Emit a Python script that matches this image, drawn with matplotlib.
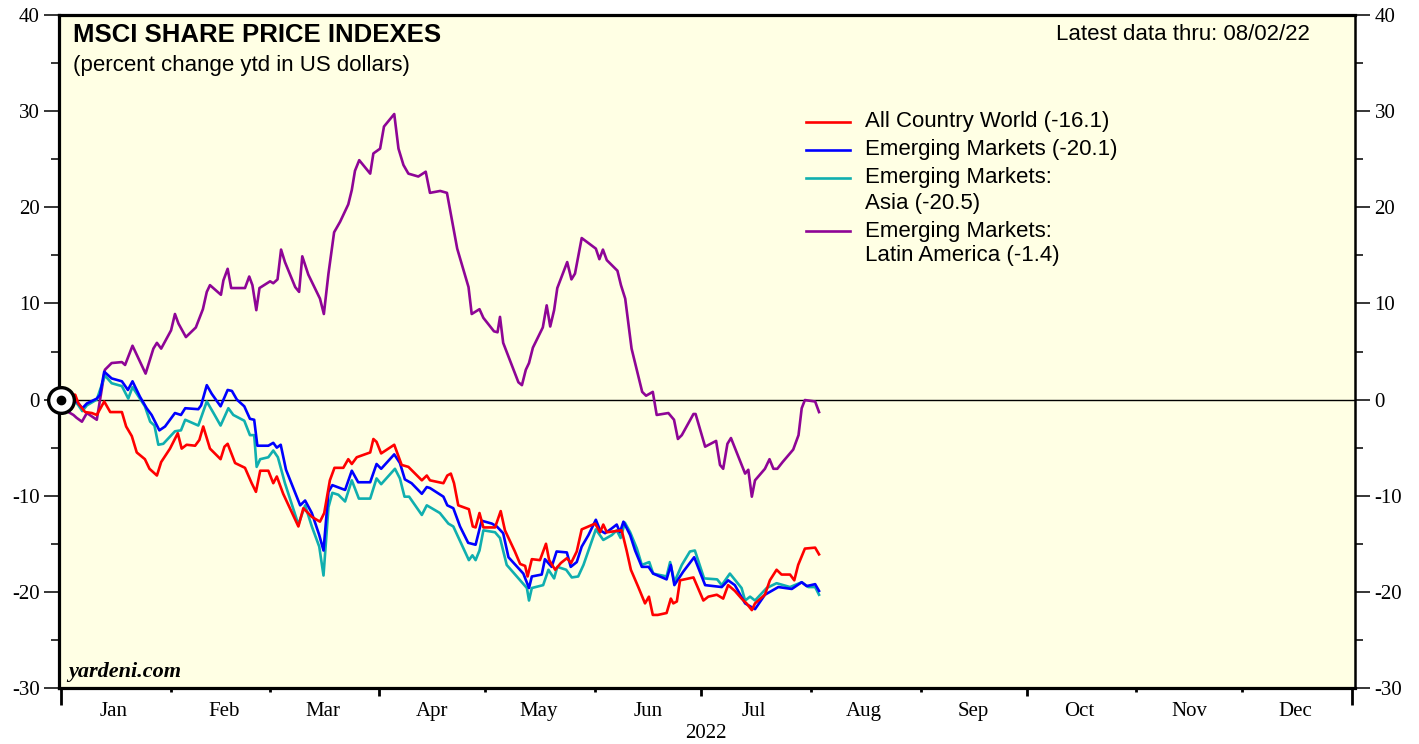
import matplotlib
matplotlib.use("Agg")
import matplotlib.pyplot as plt
import matplotlib.dates as mdates
import pandas as pd
from matplotlib.ticker import MultipleLocator

plt.rcParams["axes.unicode_minus"] = False

# (days since Jan 1 2022, percent change ytd in US dollars)
all_country_world = [
    (0, 0.0), (2.5, 0.5), (4.0, 0.5), (4.9, -0.4), (6.8, -1.3), (8.7, -1.4), (10.1, -1.6),
    (12.2, -0.2), (13.9, -1.3), (17.2, -1.3), (18.4, -2.8), (20.0, -3.8), (21.4, -5.5),
    (23.7, -6.2), (25.0, -7.2), (27.1, -7.9), (28.3, -6.5), (30.8, -5.1), (33.0, -3.5),
    (34.1, -5.1), (35.5, -4.7), (37.9, -4.8), (39.1, -4.2), (40.2, -2.8), (42.1, -5.1),
    (45.1, -6.2), (46.2, -4.9), (47.1, -4.6), (49.2, -6.6), (52.0, -7.1), (53.9, -8.7),
    (55.1, -9.6), (56.3, -7.4), (58.6, -7.4), (60.0, -8.7), (61.0, -8.0), (62.8, -9.8),
    (67.1, -13.2), (68.5, -11.3), (70.9, -12.2), (73.2, -12.7), (74.4, -11.8), (76.0, -8.4),
    (77.3, -7.1), (79.8, -7.1), (81.2, -6.2), (82.2, -6.7), (83.6, -6.0), (87.4, -5.5),
    (88.3, -4.1), (89.2, -4.4), (90.5, -5.6), (94.2, -4.7), (96.3, -6.8), (98.2, -7.0),
    (102.0, -8.4), (103.4, -7.9), (104.3, -8.4), (108.1, -8.7), (109.2, -7.9), (110.2, -7.7),
    (111.1, -8.7), (112.3, -11.0), (115.3, -11.4), (116.4, -13.2), (117.2, -13.3),
    (118.3, -11.8), (119.4, -13.3), (122.7, -13.3), (124.3, -11.6), (125.5, -13.6),
    (128.3, -15.8), (129.8, -17.1), (131.2, -17.3), (131.9, -18.4), (133.1, -16.6),
    (135.4, -16.7), (137.1, -15.0), (138.0, -16.7), (139.7, -17.7), (141.3, -17.0),
    (143.0, -16.5), (144.2, -17.0), (145.8, -15.8), (147.2, -13.5), (151.0, -12.9),
    (152.4, -13.8), (153.3, -13.0), (154.3, -13.8), (158.5, -13.6), (159.9, -15.7),
    (161.1, -17.7), (163.2, -19.5), (165.1, -21.2), (166.2, -20.5), (167.3, -22.4),
    (168.7, -22.4), (171.2, -22.2), (172.4, -20.7), (173.1, -21.2), (174.1, -21.0),
    (175.0, -18.8), (178.8, -18.5), (180.2, -19.7), (181.6, -20.9), (183.0, -20.5),
    (185.4, -20.3), (187.2, -20.7), (188.6, -19.3), (190.5, -19.9), (192.4, -20.7),
    (193.8, -21.2), (195.3, -21.9), (196.2, -21.2), (199.0, -20.3), (200.4, -18.8),
    (202.3, -17.7), (203.7, -18.2), (206.1, -18.2), (207.3, -18.8), (208.4, -17.2),
    (210.3, -15.5), (213.2, -15.4), (214.3, -16.1),
]

emerging_markets = [
    (0, 0.0), (2.5, 0.5), (4.9, -0.4), (6.0, -0.9), (7.3, -0.4), (10.1, 0.1), (11.0, 0.5),
    (12.2, 2.9), (14.3, 2.2), (17.2, 1.9), (18.9, 1.0), (20.2, 1.9), (22.3, 0.3),
    (24.2, -0.9), (25.6, -1.6), (27.8, -3.2), (29.4, -2.8), (32.2, -1.4), (33.9, -1.6),
    (35.1, -0.9), (38.8, -1.0), (39.6, -0.6), (41.2, 1.5), (42.6, 0.6), (45.1, -0.7),
    (47.1, 1.0), (48.3, 0.9), (49.7, 0.0), (51.8, -0.7), (53.4, -2.0), (54.6, -2.1),
    (55.5, -4.8), (58.6, -4.8), (60.0, -4.5), (61.0, -5.0), (62.1, -4.7), (63.6, -7.3),
    (67.6, -11.0), (69.0, -10.5), (70.9, -11.8), (73.0, -14.1), (74.2, -15.7), (75.6, -9.6),
    (76.7, -8.9), (80.3, -9.4), (82.2, -7.4), (84.0, -8.6), (87.4, -8.6), (89.2, -6.7),
    (90.5, -7.2), (94.2, -5.7), (95.8, -6.6), (97.2, -8.3), (99.1, -8.7), (102.0, -9.8),
    (103.4, -9.1), (104.3, -9.2), (108.1, -10.1), (109.2, -11.0), (110.9, -11.3),
    (112.8, -13.2), (115.1, -14.9), (117.2, -15.1), (118.9, -12.6), (121.8, -12.9),
    (123.2, -13.2), (125.0, -13.9), (126.5, -16.4), (130.7, -18.1), (132.3, -19.6),
    (133.1, -18.4), (135.9, -18.2), (136.8, -16.6), (138.7, -17.4), (140.1, -15.8),
    (143.0, -15.9), (144.1, -17.4), (145.8, -16.9), (147.2, -15.3), (149.1, -14.1),
    (151.2, -12.5), (152.4, -13.6), (153.8, -13.9), (155.7, -13.4), (157.1, -13.0),
    (158.0, -13.8), (159.0, -12.7), (160.9, -14.1), (162.3, -15.7), (164.2, -17.4),
    (166.1, -17.4), (167.4, -18.1), (171.2, -18.7), (172.4, -17.2), (173.4, -19.3),
    (175.9, -17.9), (179.0, -16.4), (180.6, -17.9), (182.1, -19.3), (186.8, -19.5),
    (188.6, -18.8), (190.5, -19.3), (193.4, -21.2), (196.2, -21.8), (199.0, -20.3),
    (202.8, -19.5), (206.6, -19.7), (209.4, -19.0), (210.8, -19.4), (213.2, -19.2),
    (214.3, -19.9),
]

em_asia = [
    (0, 0.0), (2.5, 0.5), (4.9, -0.6), (6.0, -1.2), (7.3, -0.6), (10.1, 0.0), (12.4, 2.5),
    (14.3, 1.7), (17.2, 1.4), (19.0, 0.1), (20.2, 1.3), (23.7, -0.7), (25.2, -2.3),
    (26.4, -2.7), (27.5, -4.7), (28.9, -4.6), (32.2, -3.3), (33.9, -3.2), (35.1, -2.1),
    (38.8, -2.7), (41.2, -0.2), (43.1, -1.4), (45.1, -2.7), (47.3, -0.9), (48.7, -1.6),
    (51.8, -2.2), (53.4, -3.7), (54.6, -3.7), (55.3, -7.0), (56.3, -6.2), (58.6, -6.0),
    (60.0, -5.3), (61.3, -6.0), (63.3, -8.7), (67.1, -13.0), (69.0, -11.0), (70.9, -13.2),
    (73.0, -15.3), (74.2, -18.3), (75.6, -11.2), (76.7, -9.7), (78.4, -9.9), (80.3, -10.6),
    (82.2, -8.4), (84.2, -10.3), (87.4, -10.3), (89.2, -8.2), (90.5, -8.8), (94.4, -7.2),
    (95.8, -8.2), (97.1, -10.1), (98.4, -10.1), (102.0, -12.0), (103.4, -11.0),
    (104.8, -11.3), (107.1, -11.8), (109.5, -12.9), (110.9, -13.2), (115.3, -16.7),
    (116.3, -16.2), (117.2, -16.7), (118.3, -15.7), (119.4, -13.6), (122.7, -13.8),
    (124.1, -14.4), (126.0, -17.2), (129.8, -18.8), (131.7, -19.6), (132.3, -20.9),
    (133.1, -19.6), (136.3, -19.3), (137.8, -17.7), (139.4, -18.6), (140.3, -17.4),
    (142.8, -17.7), (144.4, -18.5), (146.2, -18.4), (147.7, -17.2), (151.2, -13.5),
    (153.3, -14.6), (155.7, -14.1), (157.1, -13.6), (158.2, -14.4), (159.4, -12.8),
    (160.9, -13.8), (162.8, -15.5), (164.2, -17.2), (166.3, -16.9), (167.4, -18.1),
    (171.2, -18.4), (172.2, -16.9), (173.4, -19.0), (175.5, -17.2), (177.8, -15.8),
    (179.2, -15.7), (181.8, -18.6), (185.5, -18.7), (186.8, -19.3), (189.1, -18.1),
    (192.4, -19.6), (193.4, -20.9), (194.8, -20.5), (196.2, -20.9), (199.5, -19.6),
    (202.3, -19.1), (206.1, -19.5), (209.4, -19.0), (211.3, -19.5), (213.2, -19.5),
    (214.3, -20.3),
]

em_latam = [
    (0, 0.0), (2.1, -1.3), (3.5, -1.6), (4.4, -1.9), (5.9, -2.3), (7.3, -1.4), (10.1, -2.1),
    (12.4, 3.1), (14.3, 3.8), (17.2, 3.9), (18.1, 3.6), (20.2, 5.6), (23.9, 2.7), (26.1, 5.3),
    (27.1, 5.9), (28.3, 5.3), (31.1, 7.2), (32.2, 8.9), (33.2, 7.9), (35.3, 6.5), (38.1, 7.5),
    (40.1, 9.4), (41.2, 11.2), (42.1, 11.9), (45.2, 10.9), (45.9, 12.4), (47.1, 13.6),
    (48.1, 11.6), (52.0, 11.6), (53.2, 12.8), (54.1, 11.9), (55.2, 9.3), (56.1, 11.6),
    (59.1, 12.3), (60.0, 12.1), (61.2, 12.5), (62.2, 15.6), (63.3, 14.3), (66.2, 11.7),
    (67.3, 11.2), (68.2, 14.9), (69.9, 13.0), (73.2, 10.5), (74.3, 8.9), (75.6, 13.1),
    (77.2, 17.4), (78.9, 18.5), (81.2, 20.3), (82.2, 21.8), (83.1, 23.8), (84.3, 24.9),
    (87.4, 23.5), (88.3, 25.6), (90.2, 26.1), (91.3, 28.4), (94.2, 29.7), (95.4, 26.1),
    (96.8, 24.4), (98.2, 23.5), (101.0, 23.2), (103.1, 23.7), (104.3, 21.5), (107.2, 21.7),
    (109.1, 21.5), (112.0, 15.7), (115.2, 11.7), (116.1, 8.9), (118.3, 9.4), (119.4, 8.5),
    (122.4, 7.1), (123.4, 7.0), (124.1, 8.6), (125.0, 5.9), (129.3, 1.8), (130.3, 1.5),
    (131.4, 3.1), (132.3, 3.8), (133.4, 5.4), (136.2, 7.5), (137.3, 9.8), (138.3, 7.6),
    (139.4, 9.3), (140.3, 11.6), (143.1, 14.3), (144.3, 12.5), (145.3, 13.1), (147.2, 16.8),
    (151.2, 15.7), (152.2, 14.6), (153.2, 15.6), (154.3, 14.5), (157.3, 13.4), (158.3, 11.9),
    (159.5, 10.5), (161.3, 5.3), (164.3, 0.8), (165.4, 0.4), (167.3, 0.8), (168.4, -1.6),
    (171.7, -1.4), (173.3, -2.1), (174.4, -4.1), (175.5, -3.7), (178.8, -1.5), (179.4, -1.5),
    (182.1, -4.9), (185.2, -4.3), (186.3, -6.8), (187.2, -7.2), (188.4, -4.6), (189.4, -4.0),
    (193.4, -7.7), (194.3, -7.3), (195.3, -10.1), (196.2, -8.4), (199.0, -7.2), (200.3, -6.2),
    (201.4, -7.2), (202.5, -7.2), (204.0, -6.5), (207.0, -5.2), (208.5, -3.7), (209.4, -0.9),
    (210.3, -0.05), (213.2, -0.2), (214.3, -1.3),
]

series = [
    (all_country_world, "#FF0000", ["All Country World (-16.1)"]),
    (emerging_markets, "#0000FF", ["Emerging Markets (-20.1)"]),
    (em_asia, "#10AFAF", ["Emerging Markets:", "Asia (-20.5)"]),
    (em_latam, "#8E0596", ["Emerging Markets:", "Latin America (-1.4)"]),
]

start = pd.Timestamp("2022-01-01")
serif = "Liberation Serif"
sans = "Liberation Sans"

fig = plt.figure(figsize=(14.19, 7.44), dpi=100)
ax = fig.add_axes([59 / 1419, 1 - 688 / 744, 1296 / 1419, 673 / 744])
ax.set_facecolor("#FFFFE4")

ax.axhline(0, color="black", lw=1.0, zorder=1)

# draw latam first so others sit on top like the reference
for data, color, _ in reversed(series):
    days, vals = zip(*data)
    dates = start + pd.to_timedelta(days, unit="D")
    ax.plot(dates, vals, color=color, lw=1.9, zorder=3)

# origin marker
ax.plot([start], [0], "o", ms=18.5, mfc="white", mec="black", mew=2.4,
        zorder=6, clip_on=False)
ax.plot([start], [0], "o", ms=6, color="black", zorder=7, clip_on=False)

ax.set_ylim(-30, 40)
ax.set_xlim(start - pd.Timedelta(hours=14), pd.Timestamp("2023-01-01") + pd.Timedelta(hours=20))

# y axis, both sides
ax.yaxis.set_major_locator(MultipleLocator(10))
ax.yaxis.set_minor_locator(MultipleLocator(5))
ax.tick_params(axis="y", which="both", direction="out", left=True, right=True,
               labelleft=True, labelright=True, width=1.1)
ax.tick_params(axis="y", which="major", length=11, pad=3, labelsize=15)
ax.tick_params(axis="y", which="minor", length=6)
for lab in ax.get_yticklabels():
    lab.set_fontfamily(serif)

# x axis: ticks at month starts, labels in mid month
month_starts = pd.date_range("2022-01-01", "2023-01-01", freq="MS")
ax.set_xticks(month_starts)
ax.set_xticklabels([])
mid_months = pd.date_range("2022-01-01", "2022-12-01", freq="MS") + pd.Timedelta(days=15)
ax.set_xticks(mid_months, minor=True)
ax.set_xticklabels([d.strftime("%b") for d in mid_months], minor=True,
                   fontfamily=serif, fontsize=15)
ax.tick_params(axis="x", which="major", direction="out", width=2.0, length=3)
ax.tick_params(axis="x", which="minor", length=0, pad=10)
for d, tick in zip(month_starts, ax.xaxis.get_major_ticks()):
    if d.month == 1:
        tick.tick1line.set_markersize(12)
    elif d.month in (4, 7, 10):
        tick.tick1line.set_markersize(6)

for side in ["left", "bottom", "top"]:
    ax.spines[side].set_linewidth(2.3)
ax.spines["right"].set_linewidth(1.8)

ax.text(0.4995, -0.067, "2022", transform=ax.transAxes, ha="center", va="center",
        fontfamily=serif, fontsize=15)

# titles
ax.text((73 - 59) / 1296, (688 - 35) / 673, "MSCI SHARE PRICE INDEXES",
        transform=ax.transAxes, fontfamily=sans, fontweight="bold", fontsize=18.5,
        va="center", ha="left")
ax.text((73 - 59) / 1296, (688 - 65) / 673, "(percent change ytd in US dollars)",
        transform=ax.transAxes, fontfamily=sans, fontsize=16, va="center", ha="left")
ax.text((1310 - 59) / 1296, (688 - 35) / 673, "Latest data thru: 08/02/22",
        transform=ax.transAxes, fontfamily=sans, fontsize=16, va="center", ha="right")
ax.text((68 - 59) / 1296, (688 - 672) / 673, "yardeni.com", transform=ax.transAxes,
        fontfamily=serif, fontweight="bold", fontstyle="italic", fontsize=16,
        va="center", ha="left")

# legend drawn by hand so the line sits on the first text row
row_y = 122
for _, color, lines in series:
    yf = (688 - row_y) / 673
    ax.plot([(806 - 59) / 1296, (850 - 59) / 1296], [yf, yf], color=color, lw=1.9,
            transform=ax.transAxes)
    for line in lines:
        ax.text((865 - 59) / 1296, (688 - row_y) / 673, line, transform=ax.transAxes,
                fontfamily=sans, fontsize=16, va="center", ha="left")
        row_y += 25
    row_y += 3

fig.savefig("out.png", dpi=100)
